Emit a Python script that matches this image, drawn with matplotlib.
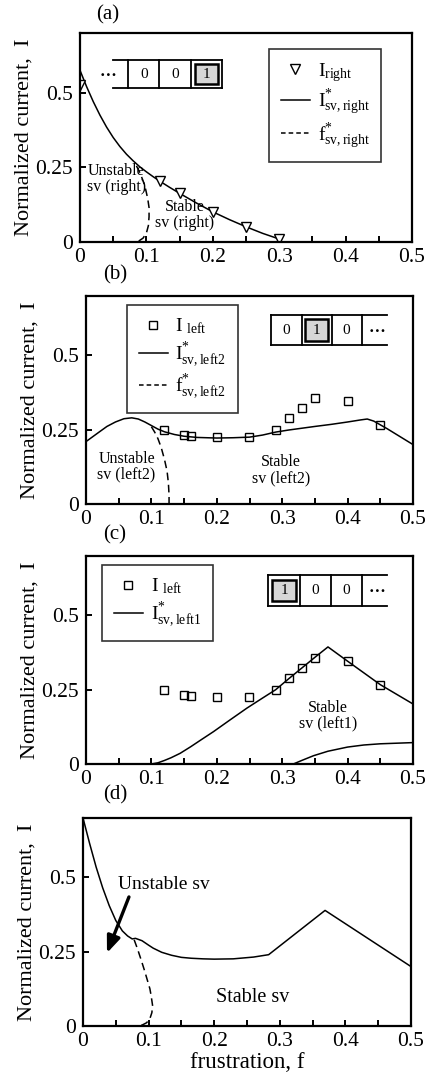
import numpy as np
import matplotlib
matplotlib.use("Agg")
import matplotlib.pyplot as plt
from matplotlib.patches import Rectangle
from matplotlib.lines import Line2D

plt.rcParams['font.family'] = ['Liberation Serif', 'DejaVu Serif']
plt.rcParams['mathtext.fontset'] = 'custom'
plt.rcParams['mathtext.rm'] = 'Liberation Serif'
plt.rcParams['mathtext.it'] = 'Liberation Serif:italic'

# ---- (a) right vortex ----
f_right_pts = [0.0, 0.12, 0.15, 0.20, 0.25, 0.30]
I_right_pts = [0.525, 0.203, 0.163, 0.101, 0.050, 0.010]
f_sv_right = [0.0, 0.01, 0.02, 0.03, 0.04, 0.05, 0.06, 0.07, 0.08, 0.09, 0.10, 0.11,
              0.12, 0.135, 0.15, 0.175, 0.20, 0.225, 0.25, 0.275, 0.30]
I_sv_right = [0.575, 0.52, 0.47, 0.425, 0.385, 0.35, 0.32, 0.294, 0.272, 0.252, 0.235, 0.219,
              0.204, 0.183, 0.163, 0.131, 0.101, 0.075, 0.051, 0.029, 0.010]
fstar_right_f = [0.085, 0.09, 0.095, 0.099, 0.102, 0.104, 0.104, 0.103, 0.100, 0.095, 0.089, 0.083]
fstar_right_I = [0.255, 0.233, 0.205, 0.175, 0.145, 0.115, 0.085, 0.055, 0.030, 0.013, 0.004, 0.0]

# ---- (b), (c) left vortex, measured points ----
f_left_pts = [0.12, 0.15, 0.16, 0.20, 0.25, 0.29, 0.31, 0.33, 0.35, 0.40, 0.45]
I_left_pts = [0.248, 0.232, 0.229, 0.225, 0.226, 0.250, 0.288, 0.322, 0.358, 0.345, 0.267]

f_sv_left2 = [0.0, 0.01, 0.02, 0.032, 0.045, 0.058, 0.07, 0.08, 0.09, 0.10, 0.11, 0.12,
              0.135, 0.15, 0.17, 0.20, 0.225, 0.25, 0.27, 0.29, 0.31, 0.33, 0.35, 0.375,
              0.40, 0.42, 0.43, 0.44, 0.46, 0.48, 0.50]
I_sv_left2 = [0.21, 0.226, 0.242, 0.261, 0.276, 0.287, 0.29, 0.286, 0.276, 0.264, 0.252, 0.243,
              0.234, 0.228, 0.224, 0.222, 0.223, 0.225, 0.232, 0.242, 0.249, 0.255, 0.261, 0.268,
              0.276, 0.283, 0.286, 0.279, 0.254, 0.227, 0.20]
fstar_left2_f = [0.10, 0.105, 0.11, 0.115, 0.12, 0.124, 0.126, 0.127, 0.127]
fstar_left2_I = [0.26, 0.242, 0.22, 0.19, 0.15, 0.11, 0.07, 0.03, 0.0]

f_sv_left1 = [0.10, 0.11, 0.12, 0.13, 0.144, 0.16, 0.175, 0.195, 0.22, 0.246, 0.27, 0.29,
              0.31, 0.33, 0.35, 0.37, 0.40, 0.45, 0.50]
I_sv_left1 = [0.0, 0.004, 0.012, 0.021, 0.036, 0.058, 0.08, 0.109, 0.148, 0.188, 0.222, 0.25,
              0.287, 0.323, 0.359, 0.394, 0.346, 0.267, 0.202]
f_sv_left1_low = [0.317, 0.33, 0.348, 0.37, 0.40, 0.425, 0.45, 0.475, 0.50]
I_sv_left1_low = [0.0, 0.012, 0.028, 0.043, 0.057, 0.064, 0.068, 0.070, 0.072]

# ---- (d) combined boundary ----
f_sv_all = [0.0, 0.01, 0.02, 0.03, 0.04, 0.05, 0.06, 0.068, 0.075, 0.08, 0.09, 0.10, 0.107,
            0.12, 0.135, 0.15, 0.165, 0.183, 0.20, 0.229, 0.26, 0.283, 0.369, 0.50]
I_sv_all = [0.70, 0.615, 0.535, 0.465, 0.405, 0.355, 0.32, 0.303, 0.293, 0.295, 0.287, 0.272,
            0.262, 0.248, 0.238, 0.231, 0.228, 0.226, 0.225, 0.226, 0.232, 0.24, 0.389, 0.20]
fstar_all_f = [0.078, 0.083, 0.089, 0.094, 0.098, 0.102, 0.104, 0.106, 0.105, 0.102, 0.097,
               0.090, 0.083]
fstar_all_I = [0.29, 0.26, 0.22, 0.185, 0.155, 0.125, 0.10, 0.07, 0.045, 0.025, 0.011,
               0.003, 0.0]

x_ticks = [0, 0.1, 0.2, 0.3, 0.4, 0.5]
x_ticklabels = ['0', '0.1', '0.2', '0.3', '0.4', '0.5']
y_ticks = [0, 0.25, 0.5]
y_ticklabels = ['0', '0.25', '0.5']

fig = plt.figure(figsize=(4.27, 10.76), dpi=100)
W, H = 427.0, 1076.0


def make_axes(left, top, right, bottom, label, lab_x):
    ax = fig.add_axes([left / W, 1 - bottom / H, (right - left) / W, (bottom - top) / H])
    ax.set_xlim(0, 0.5)
    ax.set_ylim(0, 0.7)
    ax.set_xticks(x_ticks)
    ax.set_xticklabels(x_ticklabels)
    ax.set_xticks(np.arange(0.05, 0.5, 0.1), minor=True)
    ax.set_yticks(y_ticks)
    ax.set_yticklabels(y_ticklabels)
    ax.tick_params(axis='both', which='both', direction='in', length=4, width=1.4,
                   labelsize=15.5)
    ax.tick_params(axis='x', pad=4)
    ax.tick_params(axis='y', pad=5)
    for s in ax.spines.values():
        s.set_linewidth(1.6)
    ax.set_ylabel('Normalized current,  I', fontsize=16, labelpad=1)
    fig.text(lab_x / W, 1 - label[1] / H, label[0], fontsize=15, ha='center', va='center')
    return ax


def draw_cells(ax, xs, y0, y1, digits, shaded, ext, dots_x):
    kw = dict(transform=ax.transAxes, color='black', lw=1.3, clip_on=False)
    ax.add_line(Line2D([min(xs[0], ext), max(xs[-1], ext)], [y1, y1], **kw))
    ax.add_line(Line2D([min(xs[0], ext), max(xs[-1], ext)], [y0, y0], **kw))
    for x in xs:
        ax.add_line(Line2D([x, x], [y0, y1], **kw))
    for i, d in enumerate(digits):
        xa, xb = xs[i], xs[i + 1]
        xc = 0.5 * (xa + xb)
        yc = 0.5 * (y0 + y1)
        if i == shaded:
            dx = 0.12 * (xb - xa)
            dy = 0.15 * (y1 - y0)
            ax.add_patch(Rectangle((xa + dx, y0 + dy), xb - xa - 2 * dx, y1 - y0 - 2 * dy,
                                   transform=ax.transAxes, facecolor='#d6d6d6',
                                   edgecolor='black', lw=1.8))
        ax.text(xc, yc, d, transform=ax.transAxes, fontsize=11, ha='center', va='center')
    ax.text(dots_x, 0.5 * (y0 + y1) + 0.01, '\u2026', transform=ax.transAxes,
            fontsize=12, ha='center', va='center', fontweight='bold')


def legend_box(ax, handles, labels, x, y):
    leg = ax.legend(handles, labels, loc='upper left', bbox_to_anchor=(x, y),
                    borderaxespad=0, frameon=True, fancybox=False, edgecolor='black',
                    fontsize=14, handlelength=1.5, handletextpad=0.4,
                    labelspacing=0.2, borderpad=0.6)
    leg.get_frame().set_linewidth(1.2)
    return leg


# (a)
ax = make_axes(80, 33, 412, 242, ('(a)', 15), 108)
ax.plot(f_sv_right, I_sv_right, color='black', lw=1.1)
ax.plot(fstar_right_f, fstar_right_I, color='black', lw=1.1, ls=(0, (5, 3)))
ax.plot(f_right_pts, I_right_pts, ls='none', marker='v', ms=7, mfc='white',
        mec='black', mew=1.0, clip_on=True)
h = [Line2D([], [], ls='none', marker='v', ms=7, mfc='white', mec='black', mew=1.0),
     Line2D([], [], color='black', lw=1.1),
     Line2D([], [], color='black', lw=1.1, ls=(0, (3, 2)))]
legend_box(ax, h, [r'$\mathrm{I_{right}}$', r'$\mathrm{I^{*}_{sv,right}}$',
                   r'$\mathrm{f^{*}_{sv,right}}$'], 0.569, 0.923)
draw_cells(ax, [0.1455, 0.239, 0.334, 0.427], 0.735, 0.871, ['0', '0', '1'], 2, 0.100, 0.085)
ax.text(0.055, 0.21, 'Unstable\nsv (right)', fontsize=11.5, ha='center', va='center',
        linespacing=1.0)
ax.text(0.158, 0.091, 'Stable\nsv (right)', fontsize=11.5, ha='center', va='center',
        linespacing=1.0)

# (b)
ax = make_axes(86, 296, 413, 504, ('(b)', 275), 115)
ax.plot(f_sv_left2, I_sv_left2, color='black', lw=1.1)
ax.plot(fstar_left2_f, fstar_left2_I, color='black', lw=1.1, ls=(0, (5, 3)))
ax.plot(f_left_pts, I_left_pts, ls='none', marker='s', ms=6, mfc='none',
        mec='black', mew=1.0)
h = [Line2D([], [], ls='none', marker='s', ms=6, mfc='none', mec='black', mew=1.0),
     Line2D([], [], color='black', lw=1.1),
     Line2D([], [], color='black', lw=1.1, ls=(0, (3, 2)))]
legend_box(ax, h, [r'$\mathrm{I\ _{left}}$', r'$\mathrm{I^{*}_{sv,left2}}$',
                   r'$\mathrm{f^{*}_{sv,left2}}$'], 0.125, 0.957)
draw_cells(ax, [0.565, 0.660, 0.751, 0.843], 0.764, 0.909, ['0', '1', '0'], 1, 0.92, 0.889)
ax.text(0.062, 0.125, 'Unstable\nsv (left2)', fontsize=11.5, ha='center', va='center',
        linespacing=1.0)
ax.text(0.298, 0.114, 'Stable\nsv (left2)', fontsize=11.5, ha='center', va='center',
        linespacing=1.0)

# (c)
ax = make_axes(86, 556, 413, 764, ('(c)', 535), 115)
ax.plot(f_sv_left1, I_sv_left1, color='black', lw=1.1)
ax.plot(f_sv_left1_low, I_sv_left1_low, color='black', lw=1.1)
ax.plot(f_left_pts, I_left_pts, ls='none', marker='s', ms=6, mfc='none',
        mec='black', mew=1.0)
h = [Line2D([], [], ls='none', marker='s', ms=6, mfc='none', mec='black', mew=1.0),
     Line2D([], [], color='black', lw=1.1)]
legend_box(ax, h, [r'$\mathrm{I\ _{left}}$', r'$\mathrm{I^{*}_{sv,left1}}$'], 0.049, 0.957)
draw_cells(ax, [0.557, 0.654, 0.749, 0.845], 0.760, 0.909, ['1', '0', '0'], 0, 0.92, 0.889)
ax.text(0.37, 0.162, 'Stable\nsv (left1)', fontsize=11.5, ha='center', va='center',
        linespacing=1.0)

# (d)
ax = make_axes(83, 818, 411, 1026, ('(d)', 795), 115)
ax.plot(f_sv_all, I_sv_all, color='black', lw=1.1)
ax.plot(fstar_all_f, fstar_all_I, color='black', lw=1.1, ls=(0, (5, 3)))
ax.text(0.1235, 0.477, 'Unstable sv', fontsize=14, ha='center', va='center')
ax.annotate('', xy=(0.035, 0.237), xytext=(0.0716, 0.443),
            arrowprops=dict(arrowstyle='-|>,head_length=1.0,head_width=0.4',
                            color='black', lw=2.4))
ax.text(0.259, 0.097, 'Stable sv', fontsize=14.5, ha='center', va='center')
ax.set_xlabel('frustration, f', fontsize=16.5, labelpad=1)

fig.savefig('out.png', dpi=100)
